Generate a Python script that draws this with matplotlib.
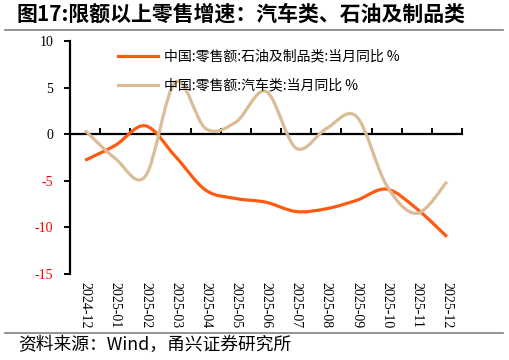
import numpy as np
import matplotlib
matplotlib.use("Agg")
import matplotlib.pyplot as plt
from matplotlib.path import Path
from matplotlib.patches import PathPatch
from matplotlib.lines import Line2D
import matplotlib.transforms as mtransforms

# ---- data ----
months = ["2024-12", "2025-01", "2025-02", "2025-03", "2025-04", "2025-05", "2025-06",
          "2025-07", "2025-08", "2025-09", "2025-10", "2025-11", "2025-12"]
oil_yoy = [-2.8, -1.2, 0.9, -2.4, -6.0, -6.9, -7.3, -8.3, -8.0, -7.1, -5.9, -8.0, -11.0]
auto_yoy = [0.4, -2.6, -4.5, 5.6, 0.6, 1.3, 4.6, -1.5, 0.6, 1.9, -5.5, -8.5, -5.1]
oil_label = "中国:零售额:石油及制品类:当月同比 %"
auto_label = "中国:零售额:汽车类:当月同比 %"
yticks = [10, 5, 0, -5, -10, -15]

ORANGE = "#FF5A12"
TAN = "#D8BD96"
CJK = ["Noto Sans CJK SC", "DejaVu Sans"]
SERIF = "Liberation Serif"


def smooth_path(xs, ys):
    # Excel-style smoothed line: Catmull-Rom segments as cubic Beziers
    pts = np.column_stack([xs, ys]).astype(float)
    n = len(pts)
    verts = [pts[0]]
    codes = [Path.MOVETO]
    for i in range(n - 1):
        p0 = pts[i - 1] if i > 0 else pts[i]
        p1 = pts[i]
        p2 = pts[i + 1]
        p3 = pts[i + 2] if i + 2 < n else pts[i + 1]
        c1 = p1 + (p2 - p0) / 6.0
        c2 = p2 - (p3 - p1) / 6.0
        verts += [c1, c2, p2]
        codes += [Path.CURVE4] * 3
    return Path(verts, codes)


fig = plt.figure(figsize=(5.09, 3.6), dpi=100)
ax = fig.add_axes([70 / 509, 86 / 360, 392 / 509, 233 / 360])

x = np.arange(len(months))
for vals, col in [(oil_yoy, ORANGE), (auto_yoy, TAN)]:
    ax.add_patch(PathPatch(smooth_path(x, vals), fill=False, edgecolor=col,
                           linewidth=2.3, capstyle="butt", zorder=3))

ax.set_xlim(-0.5, len(months) - 0.5)
ax.set_ylim(-15, 10)

# spines
for s in ["top", "right"]:
    ax.spines[s].set_visible(False)
ax.spines["left"].set_linewidth(1.6)
ax.spines["bottom"].set_position(("data", 0))
ax.spines["bottom"].set_linewidth(1.6)

# x ticks on the zero line, pointing up, at category boundaries
ax.set_xticks(np.arange(-0.5, len(months), 1.0))
ax.set_xticklabels([])
ax.tick_params(axis="x", direction="in", length=4, width=1.4)

# month labels below the plot area
trans = mtransforms.blended_transform_factory(ax.transData, ax.transAxes)
for i, m in enumerate(months):
    ax.text(i, -0.035, m, transform=trans, rotation=270, ha="center", va="top",
            fontsize=10, family=SERIF)

# y ticks: negatives in red
ax.set_yticks(yticks)
ax.set_yticklabels([str(v) for v in yticks], family=SERIF, fontsize=10)
ax.tick_params(axis="y", direction="out", length=4, width=1.4, pad=8)
for lab, v in zip(ax.get_yticklabels(), yticks):
    lab.set_color("red" if v < 0 else "black")

handles = [Line2D([], [], color=ORANGE, lw=2.3), Line2D([], [], color=TAN, lw=2.3)]
leg = ax.legend(handles, [oil_label, auto_label], loc="upper left",
                bbox_to_anchor=(0.122, 0.963), frameon=False, borderpad=0,
                borderaxespad=0, handlelength=2.9, handletextpad=0.4,
                labelspacing=1.1, prop={"family": CJK, "size": 10})

# title, rules and source
fig.text(17 / 509, 1 - 14 / 360, "图17:限额以上零售增速：汽车类、石油及制品类",
         ha="left", va="center", fontsize=15, fontweight="bold", family=CJK)
fig.add_artist(Line2D([5 / 509, 503 / 509], [1 - 29.5 / 360] * 2, color="#808080", lw=1.2))
fig.add_artist(Line2D([5 / 509, 503 / 509], [1 - 333 / 360] * 2, color="#808080", lw=1.2))
fig.text(18 / 509, 1 - 345 / 360, "资料来源：Wind，甬兴证券研究所", ha="left", va="center",
         fontsize=12.8, family=CJK)

fig.savefig("out.png", dpi=100)
